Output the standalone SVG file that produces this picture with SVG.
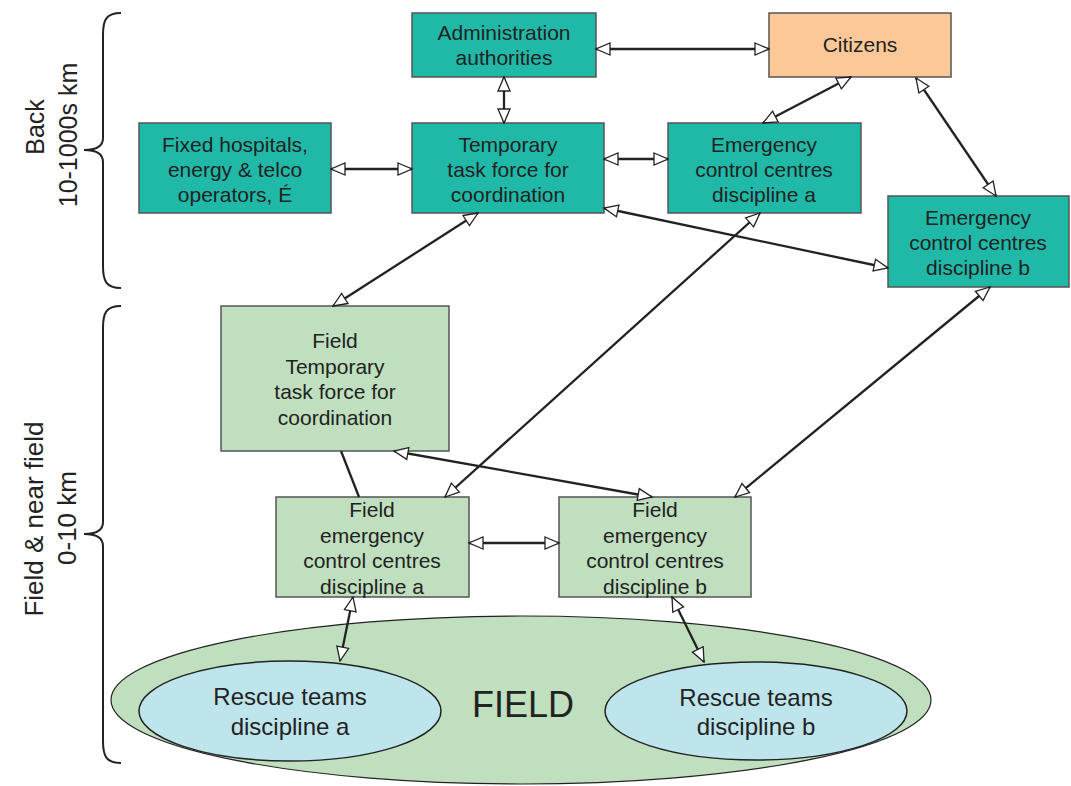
<svg xmlns="http://www.w3.org/2000/svg" width="1071" height="786" viewBox="0 0 1071 786">
<style>
text{font-family:"Liberation Sans",Arial,sans-serif;fill:#222;text-anchor:middle}
.n{font-size:21px}
.r{font-size:24px}
.teal{fill:#20b9a8;stroke:#555;stroke-width:1.5}
.org{fill:#fdc897;stroke:#555;stroke-width:1.5}
.grn{fill:#bfdfbf;stroke:#555;stroke-width:1.5}
.blu{fill:#bee5ec;stroke:#222;stroke-width:1.5}
.c{stroke:#222;stroke-width:2.3;fill:none;marker-start:url(#ah);marker-end:url(#ah)}
.p{stroke:#222;stroke-width:2.3;fill:none}
.br{stroke:#222;stroke-width:2;fill:none}
</style>
<defs>
<marker id="ah" markerUnits="userSpaceOnUse" markerWidth="18" markerHeight="16" refX="15" refY="7" orient="auto-start-reverse" viewBox="0 0 18 14">
<path d="M1,1 L15,7 L1,13 z" fill="#fff" stroke="#222" stroke-width="1.3"/>
</marker>
</defs>
<rect width="1071" height="786" fill="#fff"/>

<g id="braces">
<path class="br" d="M121,13 C106,13 103,20 103,35 L103,138 C103,146 96,150 84,150 C96,150 103,154 103,162 L103,266 C103,281 106,288 121,288"/>
<path class="br" d="M121,306 C106,306 103,313 103,328 L103,522 C103,530 96,534 84,534 C96,534 103,538 103,546 L103,741 C103,756 106,763 121,763"/>
<text transform="translate(44,127) rotate(-90)" style="font-size:25px">Back</text>
<text transform="translate(77,135) rotate(-90)" style="font-size:25px">10-1000s km</text>
<text transform="translate(43,519) rotate(-90)" style="font-size:26px">Field &amp; near field</text>
<text transform="translate(76,518) rotate(-90)" style="font-size:26px">0-10 km</text>
</g>

<g id="field">
<ellipse cx="521" cy="700" rx="410" ry="84" fill="#bfdfbf" stroke="#222" stroke-width="1.2"/>
<text x="523" y="717" style="font-size:36px">FIELD</text>
</g>
<g id="rescue-a">
<ellipse class="blu" cx="290" cy="711" rx="151" ry="50"/>
<text class="r" x="290" y="705">Rescue teams</text>
<text class="r" x="290" y="735">discipline a</text>
</g>
<g id="rescue-b">
<ellipse class="blu" cx="756" cy="711" rx="151" ry="49"/>
<text class="r" x="756" y="706">Rescue teams</text>
<text class="r" x="756" y="735">discipline b</text>
</g>

<g id="admin">
<rect class="teal" x="412" y="13" width="184" height="64"/>
<text class="n" x="504" y="40">Administration</text>
<text class="n" x="504" y="65">authorities</text>
</g>
<g id="citizens">
<rect class="org" x="769" y="13" width="182" height="64"/>
<text class="n" x="860" y="52">Citizens</text>
</g>
<g id="fixed">
<rect class="teal" x="139" y="123" width="192" height="90"/>
<text class="n" x="235" y="152">Fixed hospitals,</text>
<text class="n" x="235" y="177">energy &amp; telco</text>
<text class="n" x="235" y="202">operators, É</text>
</g>
<g id="temp">
<rect class="teal" x="412" y="123" width="192" height="90"/>
<text class="n" x="508" y="152">Temporary</text>
<text class="n" x="508" y="177">task force for</text>
<text class="n" x="508" y="202">coordination</text>
</g>
<g id="eca">
<rect class="teal" x="668" y="123" width="193" height="90"/>
<text class="n" x="764" y="152">Emergency</text>
<text class="n" x="764" y="177">control centres</text>
<text class="n" x="764" y="202">discipline a</text>
</g>
<g id="ecb">
<rect class="teal" x="888" y="196" width="181" height="91"/>
<text class="n" x="978" y="225">Emergency</text>
<text class="n" x="978" y="250">control centres</text>
<text class="n" x="978" y="275">discipline b</text>
</g>
<g id="ftemp">
<rect class="grn" x="221" y="306" width="228" height="145"/>
<text class="n" x="335" y="348">Field</text>
<text class="n" x="335" y="374">Temporary</text>
<text class="n" x="335" y="399">task force for</text>
<text class="n" x="335" y="425">coordination</text>
</g>
<g id="feca">
<rect class="grn" x="276" y="497" width="193" height="100"/>
<text class="n" x="372" y="517">Field</text>
<text class="n" x="372" y="543">emergency</text>
<text class="n" x="372" y="568">control centres</text>
<text class="n" x="372" y="594">discipline a</text>
</g>
<g id="fecb">
<rect class="grn" x="559" y="497" width="192" height="100"/>
<text class="n" x="655" y="517">Field</text>
<text class="n" x="655" y="543">emergency</text>
<text class="n" x="655" y="568">control centres</text>
<text class="n" x="655" y="594">discipline b</text>
</g>

<g id="connectors">
<line class="c" x1="596" y1="49" x2="769" y2="49"/>
<line class="c" x1="504" y1="77" x2="504" y2="123"/>
<line class="c" x1="331" y1="169" x2="412" y2="169"/>
<line class="c" x1="604" y1="159" x2="668" y2="159"/>
<line class="c" x1="851" y1="77" x2="763" y2="123"/>
<line class="c" x1="916" y1="78" x2="996" y2="196"/>
<line class="c" x1="604" y1="208" x2="888" y2="268"/>
<line class="c" x1="478" y1="213" x2="333" y2="306"/>
<line class="c" x1="760" y1="213" x2="445" y2="497"/>
<line class="c" x1="990" y1="287" x2="735" y2="497"/>
<line class="c" x1="394" y1="451" x2="652" y2="497"/>
<line class="p" x1="341" y1="451" x2="359" y2="497"/>
<line class="c" x1="469" y1="543" x2="559" y2="543"/>
<line class="c" x1="353" y1="597" x2="340" y2="661"/>
<line class="c" x1="672" y1="597" x2="704" y2="662"/>
</g>
</svg>
